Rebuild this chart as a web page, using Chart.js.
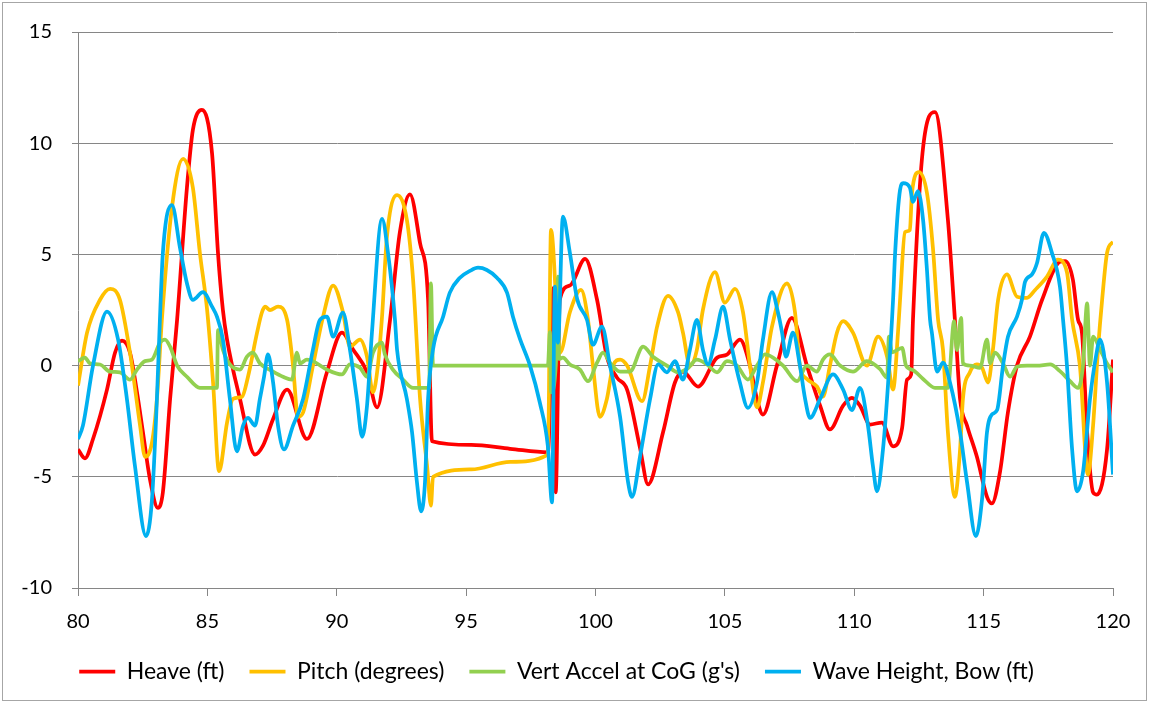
<!DOCTYPE html>
<html>
<head>
<meta charset="utf-8">
<script src="https://cdn.jsdelivr.net/npm/chart.js@4/dist/chart.umd.min.js"></script>
<style>
  html, body { margin: 0; padding: 0; background: #fff; }
  #wrap { width: 1149px; height: 703px; position: relative; }
</style>
</head>
<body>
<div id="wrap"><canvas id="chart" width="1149" height="703"></canvas></div>
<script>
// values
const xTicks = [80, 85, 90, 95, 100, 105, 110, 115, 120];
const yTicks = [-10, -5, 0, 5, 10, 15];

const heaveX = [80, 80.27, 80.58, 81.12, 81.43, 81.7, 82.01, 82.28, 82.51, 82.78, 83.09, 83.28, 83.56, 83.83, 84.21, 84.44, 84.79, 85.18, 85.41, 85.6, 85.76, 86.26, 86.84, 87.15, 87.54, 88.08, 88.85, 89.62, 90.2, 90.63, 91.17, 91.56, 92.06, 92.44, 92.83, 93.22, 93.53, 93.68, 95.2, 96.7, 98.16, 98.38, 98.46, 98.62, 99.01, 99.6, 100.06, 100.44, 100.83, 101.22, 101.72, 102.03, 102.61, 103.07, 103.38, 103.96, 104.7, 105.08, 105.58, 105.97, 106.24, 106.47, 107.01, 107.59, 108.17, 108.68, 109.06, 109.57, 109.91, 110.22, 110.61, 111.07, 111.5, 111.85, 112.04, 112.2, 112.27, 112.66, 113.12, 113.62, 113.89, 114.09, 114.36, 114.74, 115.13, 115.32, 115.63, 115.94, 116.29, 116.79, 117.26, 117.95, 118.15, 118.45, 118.65, 118.8, 119.0, 119.23, 119.38, 119.77, 120];
const heaveY = [-3.77, -4.17, -3.3, -1.08, 0.58, 1.12, 0.58, -1.2, -3.0, -5.1, -6.4, -5.7, -1.5, 2.06, 8.0, 10.6, 11.5, 9.55, 5.07, 2.5, 1.17, -1.5, -4.0, -3.6, -2.4, -1.08, -3.3, -0.3, 1.48, 0.72, -0.3, -1.88, 2.06, 6.0, 7.7, 5.5, 2.96, -3.4, -3.57, -3.74, -3.9, 3.5, -5.7, 2.96, 3.6, 4.8, 2.96, 0.4, -0.54, -1.08, -3.7, -5.34, -3.0, -0.76, -0.27, -0.94, 0.36, 0.49, 1.17, 0, -1.5, -2.2, 0, 2.15, 0, -1.8, -2.87, -1.8, -1.45, -1.8, -2.65, -2.56, -3.63, -2.8, -0.63, -0.4, 2.06, 9.8, 11.4, 6.55, 2.06, -1.5, -2.7, -4.1, -5.9, -6.2, -4.8, -2.1, 0, 1.3, 2.96, 4.67, 4.7, 3.86, 2.06, 1.48, -3.0, -5.7, -5.8, -3.77, 0.27];

const pitchX = [80, 80.35, 80.85, 81.24, 81.62, 82.01, 82.4, 82.59, 82.86, 83.05, 83.25, 83.63, 84.06, 84.44, 84.71, 84.99, 85.22, 85.45, 85.76, 85.99, 86.34, 86.57, 86.92, 87.11, 87.23, 87.42, 87.73, 88.08, 88.31, 88.5, 88.7, 89.08, 89.47, 89.86, 90.24, 90.51, 90.9, 91.17, 91.4, 91.59, 91.75, 91.94, 92.33, 92.71, 92.95, 93.22, 93.49, 93.64, 93.72, 95.2, 96.7, 98.16, 98.28, 98.63, 99.01, 99.44, 99.71, 99.9, 100.17, 100.44, 100.68, 100.95, 101.22, 101.8, 102.11, 102.38, 102.8, 103.19, 103.38, 103.65, 103.92, 104.15, 104.62, 105.0, 105.39, 105.7, 105.97, 106.24, 106.47, 106.82, 107.4, 107.71, 107.9, 108.17, 108.56, 108.79, 109.06, 109.33, 109.57, 109.95, 110.49, 110.92, 111.27, 111.5, 111.69, 111.77, 111.96, 112.15, 112.23, 112.5, 112.81, 113.04, 113.24, 113.43, 113.62, 113.89, 114.09, 114.2, 114.47, 114.74, 114.94, 115.17, 115.36, 115.56, 115.9, 116.29, 116.68, 116.99, 117.45, 117.87, 118.22, 118.42, 118.72, 119.03, 119.23, 119.42, 119.58, 119.77, 120];
const pitchY = [-0.9, 1.48, 2.96, 3.45, 2.96, 0.58, -2.7, -4.1, -3.45, -1.5, 2.2, 7.1, 9.3, 8.0, 5.07, 2.5, -0.76, -4.75, -2.56, -1.5, -1.4, -0.5, 1.48, 2.4, 2.65, 2.5, 2.65, 2.06, 0, -2.3, -2.1, 0, 2.2, 3.6, 2.4, 0.85, 1.17, 0.4, -1.2, 0, 2.2, 5.8, 7.67, 6.55, 3.86, -1.5, -4.5, -6.3, -5.0, -4.67, -4.33, -4.0, 6.1, 0.58, 2.4, 3.4, 2.06, 0, -2.3, -1.5, 0, 0.27, 0, -1.6, 0, 1.75, 3.14, 2.4, 1.48, 0, 0.72, 2.5, 4.2, 2.83, 3.45, 2.4, 0, -1.88, -0.76, 1.75, 3.7, 2.4, 0, -0.6, -0.94, -1.4, 0, 1.48, 2.0, 1.48, 0, 1.3, 0.4, -1.08, 1.48, 2.96, 6.0, 6.1, 7.76, 8.7, 7.76, 5.3, 2.06, 0.7, -3.0, -5.9, -3.77, -1.5, -0.3, 0.05, -0.1, -0.76, 0.72, 2.96, 4.1, 3.1, 3.05, 3.4, 4.0, 4.76, 4.2, 2.06, 0, -4.9, -2.7, 0.72, 2.96, 5.07, 5.57];

const accelX = [80, 80.27, 80.46, 80.85, 81.24, 81.62, 82.01, 82.28, 82.59, 82.86, 83.17, 83.36, 83.56, 83.83, 84.21, 84.71, 85.37, 85.41, 85.6, 85.87, 86.26, 86.53, 86.76, 87.03, 87.54, 87.92, 88.27, 88.46, 88.58, 88.85, 89.08, 89.62, 90.2, 90.51, 90.9, 91.17, 91.4, 91.75, 91.86, 92.17, 92.56, 92.95, 93.57, 93.64, 93.72, 98.16, 98.24, 98.28, 98.47, 98.55, 98.59, 98.74, 99.01, 99.4, 99.71, 100.06, 100.29, 100.56, 100.95, 101.33, 101.84, 102.22, 102.76, 103.19, 103.54, 103.92, 104.31, 104.7, 105.08, 105.47, 105.89, 106.24, 106.55, 106.86, 107.25, 107.79, 108.17, 108.56, 108.79, 109.06, 109.45, 109.95, 110.49, 110.99, 111.27, 111.34, 111.46, 111.85, 112.0, 112.27, 112.66, 113.12, 113.62, 113.86, 113.97, 114.13, 114.2, 114.47, 114.86, 115.13, 115.25, 115.44, 115.75, 116.02, 116.29, 116.68, 117.06, 117.57, 117.95, 118.34, 118.65, 118.84, 119.0, 119.11, 119.23, 119.5, 119.77, 120];
const accelY = [0.2, 0.36, 0.1, 0.05, -0.27, -0.3, -0.63, -0.18, 0.2, 0.27, 1.03, 1.17, 0.85, 0, -0.5, -1.0, -1.0, 1.6, 0.72, 0.05, -0.18, 0.4, 0.58, 0.1, -0.27, -0.5, -0.63, 0.58, 0.1, 0.27, 0.2, -0.18, -0.4, 0.05, -0.1, -0.5, 0.58, 1.03, 0.5, -0.18, -0.63, -1.0, -1.0, 3.7, 0, 0, 1.5, -1.2, 0.1, 4.0, 0.3, 0.36, 0.05, -0.18, -0.7, 0.13, 0.58, 0.13, -0.27, -0.27, 0.85, 0.4, 0, -0.3, -0.15, 0.27, 0.05, -0.3, 0.2, 0, -0.63, 0, 0.5, 0.36, 0, -0.7, 0, -0.27, 0.27, 0.5, 0, -0.27, 0.2, -0.15, -0.54, 1.3, 0.6, 0.8, 0, -0.2, -0.6, -1.0, -1.0, 2.0, 0.7, 2.15, 0.1, 0, -0.1, 1.17, 0.1, 0.58, 0.1, -0.5, -0.05, 0, 0, 0.05, -0.25, -0.7, -1.0, 0, 2.8, 0, 1.3, 0.72, 0.1, -0.3];

const waveX = [80, 80.19, 80.58, 81.12, 81.55, 81.89, 82.2, 82.63, 82.86, 83.05, 83.17, 83.28, 83.63, 83.94, 84.21, 84.44, 84.83, 85.18, 85.37, 85.6, 85.87, 86.14, 86.38, 86.57, 86.84, 87.03, 87.19, 87.34, 87.54, 87.73, 87.96, 88.31, 88.7, 89.08, 89.35, 89.62, 89.86, 90.24, 90.51, 90.78, 90.98, 91.17, 91.36, 91.75, 91.98, 92.25, 92.33, 92.71, 92.91, 93.1, 93.26, 93.41, 93.53, 93.72, 94.11, 94.37, 94.76, 95.15, 95.46, 95.8, 96.19, 96.58, 96.81, 97.08, 97.47, 97.85, 98.16, 98.32, 98.43, 98.55, 98.74, 99.01, 99.29, 99.67, 99.9, 100.25, 100.56, 100.95, 101.26, 101.41, 101.72, 102.11, 102.42, 102.76, 103.07, 103.38, 103.65, 103.92, 104.15, 104.35, 104.62, 104.93, 105.2, 105.58, 105.89, 106.24, 106.47, 106.82, 107.05, 107.21, 107.36, 107.63, 107.9, 108.1, 108.29, 108.68, 109.18, 109.57, 109.91, 110.22, 110.53, 110.72, 110.88, 111.11, 111.31, 111.5, 111.58, 111.77, 111.89, 112.15, 112.27, 112.46, 112.66, 112.81, 112.93, 113.0, 113.2, 113.43, 113.7, 114.09, 114.36, 114.7, 114.94, 115.13, 115.32, 115.52, 115.75, 115.94, 116.29, 116.48, 116.6, 116.87, 117.06, 117.33, 117.64, 117.95, 118.07, 118.22, 118.42, 118.61, 118.84, 119.11, 119.34, 119.5, 119.77, 120];
const waveY = [-3.3, -2.7, 0, 2.43, 1.17, -1.5, -4.5, -7.67, -6.0, -1.5, 2.2, 5.07, 7.22, 5.3, 3.7, 2.96, 3.3, 2.65, 2.2, 1.17, -1.5, -3.86, -2.7, -2.35, -2.7, -1.5, -0.5, 0.5, -0.76, -2.7, -3.77, -2.7, -1.5, 0.72, 2.06, 2.2, 1.3, 2.38, 0.72, -1.5, -3.2, -1.8, 1.48, 6.6, 5.07, 2.06, 0.72, -1.5, -3.0, -5.25, -6.55, -5.25, -1.5, 0.72, 2.2, 3.28, 3.95, 4.26, 4.4, 4.3, 3.95, 3.28, 2.2, 1.2, 0, -1.67, -3.63, -6.15, 3.55, 1.03, 6.7, 5.07, 3.0, 2.06, 0.94, 1.75, 0, -2.3, -5.25, -5.9, -4.1, -1.5, 0.05, -0.3, 0.2, -0.63, 0.72, 2.06, 0.72, 0.05, 1.17, 2.65, 1.17, -0.76, -1.9, -0.76, 1.17, 3.3, 2.4, 1.48, 0.4, 1.48, 0, -1.5, -2.35, -1.5, -0.4, -1.08, -2.0, -1.0, -2.7, -4.5, -5.65, -3.77, -0.76, 2.96, 5.07, 7.9, 8.2, 8.0, 7.36, 7.85, 6.55, 4.3, 2.06, 1.48, -0.27, 0.13, -0.76, -3.0, -5.25, -7.67, -6.0, -3.0, -2.2, -2.0, 0, 1.3, 2.2, 2.96, 3.77, 4.1, 4.6, 5.97, 5.07, 3.55, 2.06, 0, -3.77, -5.65, -4.8, -1.5, 0.4, 1.17, -0.76, -4.9];

function toPoints(xs, ys) {
    return xs.map((x, i) => ({ x: x, y: ys[i] }));
}

function series(label, xs, ys, color, order) {
    return {
        label: label,
        data: toPoints(xs, ys),
        borderColor: color,
        backgroundColor: color,
        borderWidth: 3.75,
        pointRadius: 0,
        cubicInterpolationMode: 'monotone',
        order: order
    };
}

// thin outline round the whole chart, like the Excel chart area
const frame = {
    id: 'frame',
    afterDraw(chart) {
        const ctx = chart.ctx;
        ctx.save();
        ctx.strokeStyle = '#a6a6a6';
        ctx.lineWidth = 1;
        ctx.strokeRect(2.5, 2.5, chart.width - 5, chart.height - 5);
        ctx.restore();
    }
};

const gridColor = '#868686';
const tickFont = { family: 'Lato', size: 20 };

new Chart(document.getElementById('chart'), {
    type: 'line',
    data: {
        datasets: [
            series('Heave (ft)', heaveX, heaveY, '#ff0000', 3),
            series('Pitch (degrees)', pitchX, pitchY, '#ffc000', 2),
            series("Vert Accel at CoG (g's)", accelX, accelY, '#92d050', 1),
            series('Wave Height, Bow (ft)', waveX, waveY, '#00b0f0', 0)
        ]
    },
    options: {
        responsive: false,
        animation: false,
        devicePixelRatio: 1,
        layout: { padding: { left: 0, right: 36, top: 32, bottom: 10 } },
        plugins: {
            tooltip: { enabled: false },
            legend: {
                position: 'bottom',
                labels: {
                    sort: (a, b) => a.datasetIndex - b.datasetIndex,
                    usePointStyle: true,
                    pointStyle: 'line',
                    pointStyleWidth: 36,
                    color: '#000',
                    font: { family: 'Lato', size: 23 },
                    padding: 25
                }
            }
        },
        scales: {
            x: {
                type: 'linear',
                min: 80,
                max: 120,
                afterBuildTicks: (scale) => { scale.ticks = xTicks.map(v => ({ value: v })); },
                afterFit: (scale) => { scale.height = 47; },
                ticks: { color: '#000', font: tickFont, padding: 14, maxRotation: 0 },
                grid: { drawOnChartArea: false, color: gridColor, tickLength: 8 },
                border: { color: gridColor }
            },
            y: {
                min: -10,
                max: 15,
                afterBuildTicks: (scale) => { scale.ticks = yTicks.map(v => ({ value: v })); },
                afterFit: (scale) => { scale.width = 78; },
                ticks: { color: '#000', font: tickFont, padding: 20 },
                grid: { color: gridColor, tickLength: 6 },
                border: { color: gridColor }
            }
        }
    },
    plugins: [frame]
});
</script>
</body>
</html>
